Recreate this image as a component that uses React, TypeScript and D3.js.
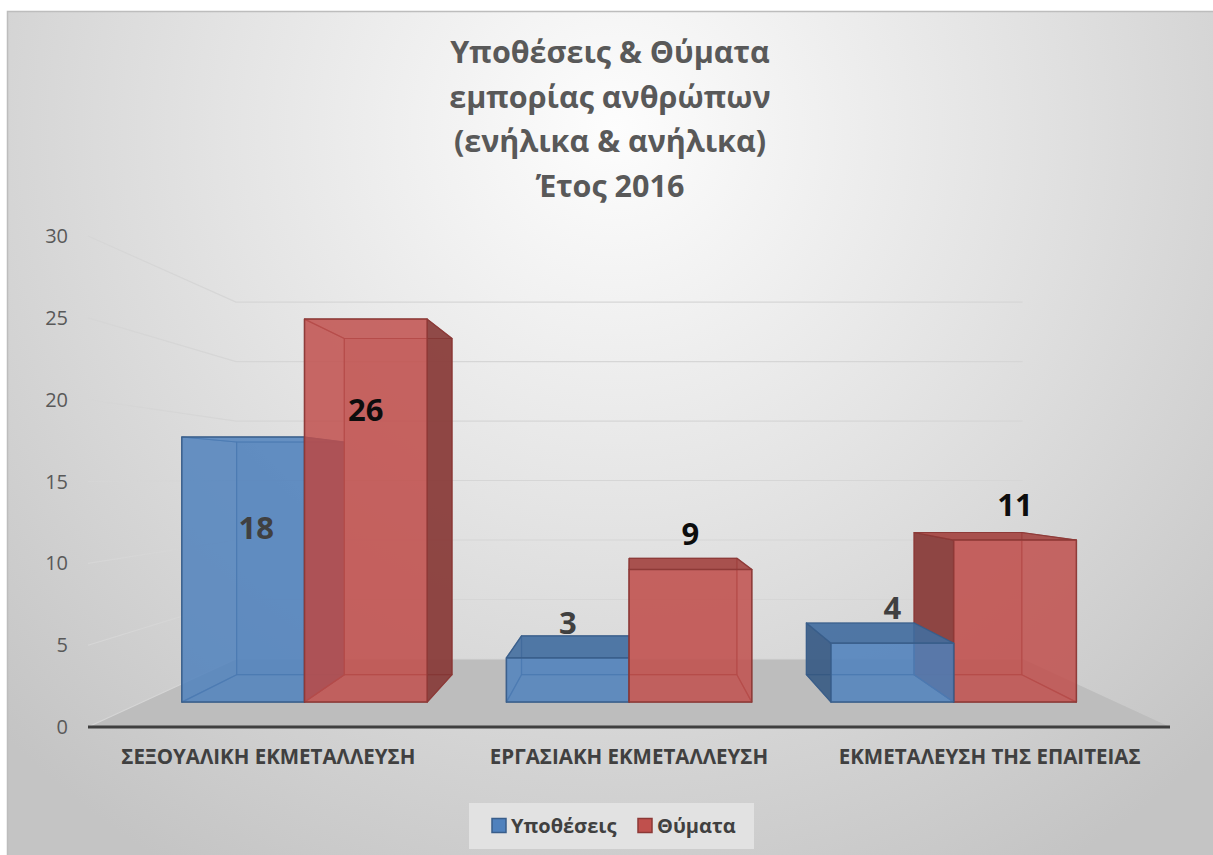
import React from "react";
import * as d3 from "d3";

// chart values
const categories = [
  "ΣΕΞΟΥΑΛΙΚΗ ΕΚΜΕΤΑΛΛΕΥΣΗ",
  "ΕΡΓΑΣΙΑΚΗ ΕΚΜΕΤΑΛΛΕΥΣΗ",
  "ΕΚΜΕΤΑΛΕΥΣΗ ΤΗΣ ΕΠΑΙΤΕΙΑΣ",
];
const seriesNames = ["Υποθέσεις", "Θύματα"];
const cases = [18, 3, 4];
const victims = [26, 9, 11];
const yTicks = [0, 5, 10, 15, 20, 25, 30];
const titleLines = [
  "Υποθέσεις & Θύματα",
  "εμπορίας ανθρώπων",
  "(ενήλικα & ανήλικα)",
  "Έτος 2016",
];

const seriesValues = [cases, victims];
const seriesColors = ["#4f81bd", "#c0504d"];
const seriesStroke = ["#385d8a", "#8c3836"];
const labelColors = ["#404040", "#0d0d0d"];

const width = 1213;
const height = 855;
const font = "'Open Sans', 'DejaVu Sans', sans-serif";

// perspective setup: front plane of the plot box, vanishing point, depths
const frontLeft = 88;
const frontRight = 1170;
const frontBottom = 727;
const frontTop = 236;
const vp: [number, number] = [630, 478];
const sWall = 0.727;
const sBarFront = 0.9;
const sBarBack = 0.79;

const proj = (px: number, py: number, s: number): [number, number] => [
  vp[0] + s * (px - vp[0]),
  vp[1] + s * (py - vp[1]),
];

const pts = (list: [number, number][]) =>
  list.map((p) => `${p[0].toFixed(1)},${p[1].toFixed(1)}`).join(" ");

export default function App() {
  const x = d3
    .scaleBand<string>()
    .domain(categories)
    .range([frontLeft, frontRight])
    .paddingInner(0.244)
    .paddingOuter(0.122);

  const xs = d3
    .scaleBand<string>()
    .domain(seriesNames)
    .range([0, x.bandwidth()])
    .padding(0);

  const y = d3.scaleLinear().domain([0, 30]).range([frontBottom, frontTop]);

  // build bars
  type Bar = {
    key: string;
    si: number;
    v: number;
    xl: number;
    xr: number;
    yt: number;
    yb: number;
  };
  const bars: Bar[] = [];
  categories.forEach((c, ci) => {
    seriesNames.forEach((s, si) => {
      const xl = (x(c) ?? 0) + (xs(s) ?? 0);
      bars.push({
        key: `${ci}-${si}`,
        si,
        v: seriesValues[si][ci],
        xl,
        xr: xl + xs.bandwidth(),
        yt: y(seriesValues[si][ci]),
        yb: y(0),
      });
    });
  });
  // farthest from the view axis first
  const drawOrder = [...bars].sort(
    (a, b) =>
      Math.abs((b.xl + b.xr) / 2 - vp[0]) - Math.abs((a.xl + a.xr) / 2 - vp[0])
  );

  const renderBar = (b: Bar) => {
    const f = sBarFront;
    const k = sBarBack;
    const base = seriesColors[b.si];
    const side = d3.color(base)!.darker(1.1).formatHex();
    const topC = d3.color(base)!.darker(0.5).formatHex();
    const faces = {
      back: [proj(b.xl, b.yt, k), proj(b.xr, b.yt, k), proj(b.xr, b.yb, k), proj(b.xl, b.yb, k)],
      front: [proj(b.xl, b.yt, f), proj(b.xr, b.yt, f), proj(b.xr, b.yb, f), proj(b.xl, b.yb, f)],
      left: [proj(b.xl, b.yt, f), proj(b.xl, b.yt, k), proj(b.xl, b.yb, k), proj(b.xl, b.yb, f)],
      right: [proj(b.xr, b.yt, f), proj(b.xr, b.yt, k), proj(b.xr, b.yb, k), proj(b.xr, b.yb, f)],
      top: [proj(b.xl, b.yt, f), proj(b.xr, b.yt, f), proj(b.xr, b.yt, k), proj(b.xl, b.yt, k)],
      bottom: [proj(b.xl, b.yb, f), proj(b.xr, b.yb, f), proj(b.xr, b.yb, k), proj(b.xl, b.yb, k)],
    };
    const vis = {
      left: b.xl > vp[0],
      right: b.xr < vp[0],
      top: b.yt > vp[1],
      bottom: b.yb < vp[1],
    };
    const hidden: string[] = [];
    const shown: { name: string; fill: string }[] = [];
    (["left", "right", "top", "bottom"] as const).forEach((n) => {
      if (vis[n]) shown.push({ name: n, fill: n === "top" || n === "bottom" ? topC : side });
      else hidden.push(n);
    });
    const stroke = seriesStroke[b.si];
    return (
      <g key={b.key} strokeLinejoin="round">
        <polygon points={pts(faces.back)} fill={base} fillOpacity={0.45} stroke={stroke} strokeOpacity={0.7} strokeWidth={1.2} />
        {hidden.map((n) => (
          <polygon key={n} points={pts((faces as any)[n])} fill={base} fillOpacity={0.3} stroke={stroke} strokeOpacity={0.7} strokeWidth={1.2} />
        ))}
        {shown.map((s) => (
          <polygon key={s.name} points={pts((faces as any)[s.name])} fill={s.fill} fillOpacity={0.85} stroke={stroke} strokeOpacity={0.9} strokeWidth={1.2} />
        ))}
        <polygon points={pts(faces.front)} fill={base} fillOpacity={0.78} stroke={stroke} strokeOpacity={0.9} strokeWidth={1.5} />
      </g>
    );
  };

  // floor
  const floor = [
    proj(frontLeft, frontBottom, 1),
    proj(frontRight, frontBottom, 1),
    proj(frontRight, frontBottom, sWall),
    proj(frontLeft, frontBottom, sWall),
  ];

  const legendX = 469;
  const legendY = 803;
  const legendItemX = [492, 638];

  return (
    <svg
      width={width}
      height={height}
      style={{ position: "absolute", left: 0, top: 0, fontFamily: font }}
    >
      <defs>
        <radialGradient id="bg" gradientUnits="userSpaceOnUse" cx={615} cy={130} r={860}>
          <stop offset="0" stopColor="#fdfdfd" />
          <stop offset="0.45" stopColor="#e4e4e4" />
          <stop offset="1" stopColor="#c4c4c4" />
        </radialGradient>
      </defs>
      <rect x={0} y={0} width={width} height={height} fill="#ffffff" />
      <rect x={7.5} y={11.5} width={width} height={height} fill="url(#bg)" stroke="#bdbdbd" strokeWidth={1.5} />

      {/* title */}
      <g fill="#595959" fontWeight="bold" fontSize={30.5} textAnchor="middle">
        {titleLines.map((t, i) => (
          <text key={i} x={610} y={63 + i * 44.7}>
            {t}
          </text>
        ))}
      </g>

      {/* floor */}
      <polygon points={pts(floor)} fill="#bdbdbd" />

      {/* gridlines on side wall and back wall */}
      <g stroke="#d6d6d6" strokeWidth={1.2} fill="none">
        {yTicks.map((t) => {
          const a = proj(frontLeft, y(t), 1);
          const b = proj(frontLeft, y(t), sWall);
          const c = proj(frontRight, y(t), sWall);
          return <polyline key={t} points={pts([a, b, c])} />;
        })}
      </g>

      {/* y tick labels */}
      <g fill="#595959" fontSize={20} textAnchor="end">
        {yTicks.map((t) => (
          <text key={t} x={68} y={y(t)} dy="0.35em">
            {t}
          </text>
        ))}
      </g>

      {/* bars */}
      {drawOrder.map(renderBar)}

      {/* axis line */}
      <line x1={frontLeft} x2={frontRight} y1={frontBottom} y2={frontBottom} stroke="#3f3f3f" strokeWidth={3} />

      {/* category labels */}
      <g fill="#404040" fontWeight="bold" fontSize={20.5} textAnchor="middle">
        {categories.map((c) => (
          <text key={c} x={(x(c) ?? 0) + x.bandwidth() / 2} y={757} dy="0.35em">
            {c}
          </text>
        ))}
      </g>

      {/* data labels */}
      <g fontWeight="bold" fontSize={31} textAnchor="middle">
        {bars.map((b) => {
          const p = proj((b.xl + b.xr) / 2, b.yt, sBarFront);
          // tall bars carry the label inside, short ones above
          const inside = b.v >= 15;
          const ly = inside ? p[1] + 91 : p[1] - 35;
          const lx = inside && b.si === 0 ? p[0] + 13 : p[0];
          return (
            <text key={b.key} x={lx} y={ly} dy="0.35em" fill={labelColors[b.si]}>
              {b.v}
            </text>
          );
        })}
      </g>

      {/* legend */}
      <rect x={legendX} y={legendY} width={285} height={46} fill="#e2e2e2" />
      {seriesNames.map((s, i) => (
        <g key={s}>
          <rect
            x={legendItemX[i]}
            y={818.5}
            width={14}
            height={14}
            fill={seriesColors[i]}
            stroke={seriesStroke[i]}
            strokeWidth={1.5}
          />
          <text x={legendItemX[i] + 19} y={826} dy="0.35em" fontSize={20} fontWeight="bold" fill="#404040">
            {s}
          </text>
        </g>
      ))}
    </svg>
  );
}
